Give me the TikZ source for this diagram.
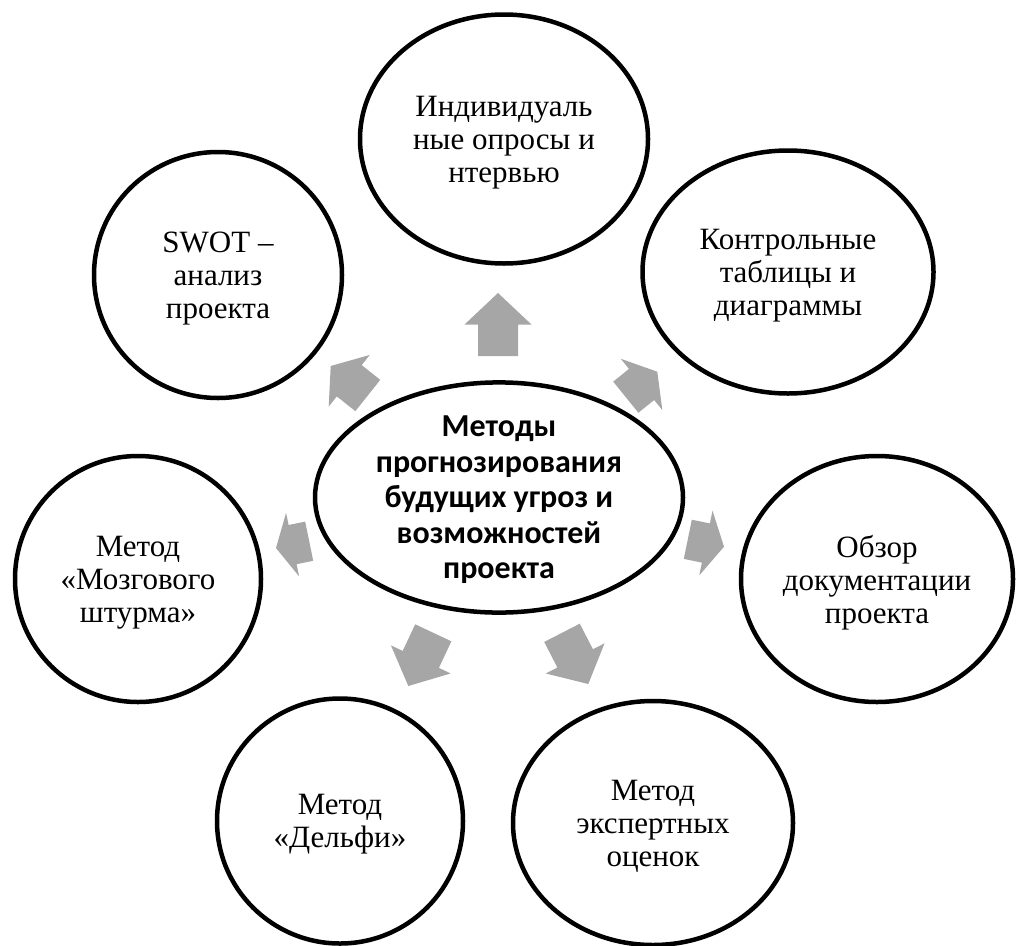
\documentclass[tikz,border=0pt]{standalone}
\usepackage{fontspec}
\setmainfont{Liberation Serif}
\newfontfamily\boldsans{Carlito}
\usetikzlibrary{shapes.geometric,calc}
\definecolor{arrowgray}{HTML}{A6A6A6}
\tikzset{
  circ/.style={ellipse, draw=black, line width=4.5pt, align=center, inner sep=0pt,
    text depth=0pt, font=\fontsize{31}{33}\selectfont},
  hub/.style={ellipse, draw=black, line width=4.5pt, align=center, inner sep=0pt,
    text depth=0pt, font=\boldsans\bfseries\fontsize{32}{35.5}\selectfont},
  blockarrow/.style={fill=arrowgray, draw=none}
}
\newcommand\blkarrow[3]{%
  \coordinate (#1m) at ($(#1)!0.5!(#2)$);
  \fill[blockarrow] ($(#1)!20pt!90:(#2)$) -- ($(#1m)!20pt!90:(#2)$) -- ($(#1m)!#3!90:(#2)$)
    -- (#2) -- ($(#1m)!#3!-90:(#2)$) -- ($(#1m)!20pt!-90:(#2)$) -- ($(#1)!20pt!-90:(#2)$) -- cycle;
}
\begin{document}
\begin{tikzpicture}[x=1pt,y=-1pt]
\useasboundingbox (0,0) rectangle (1017,945);

% outer circles
\node[circ, minimum width=288pt, minimum height=249pt] (indiv) at (504,139) {Индивидуаль\\ные опросы и\\нтервью};
\node[circ, minimum width=248pt, minimum height=246pt] (swot) at (218,275) {SWOT –\\анализ\\проекта};
\node[circ, minimum width=291pt, minimum height=243pt] (control) at (788,272) {Контрольные\\таблицы и\\диаграммы};
\node[circ, minimum width=246pt, minimum height=246pt] (brain) at (138,579) {Метод\\«Мозгового\\штурма»};
\node[circ, minimum width=272pt, minimum height=246pt] (review) at (877,579) {Обзор\\документации\\проекта};
\node[circ, minimum width=246pt, minimum height=245pt] (delphi) at (340,821) {Метод\\«Дельфи»};
\node[circ, minimum width=280pt, minimum height=244pt] (expert) at (653,823) {Метод\\экспертных\\оценок};

% hub
\node[hub, minimum width=368pt, minimum height=227pt] (hub) at (499,497.5) {Методы\\прогнозирования\\будущих угроз и\\возможностей\\проекта};

% block arrows (back, tip)
\coordinate (a1) at (498,356);   \coordinate (t1) at (498,293);
\coordinate (a2) at (367.8,395.5); \coordinate (t2) at (330.7,366);
\coordinate (a3) at (625.8,397.2); \coordinate (t3) at (657.3,371.7);
\coordinate (a4) at (309.2,541.2); \coordinate (t4) at (276,548);
\coordinate (a5) at (687.8,539.3); \coordinate (t5) at (724,546.7);
\coordinate (a6) at (433.3,632.8); \coordinate (t6) at (408.3,686);
\coordinate (a7) at (562,632.8);   \coordinate (t7) at (588.3,684);
\blkarrow{a1}{t1}{33.5pt}
\blkarrow{a2}{t2}{33pt}
\blkarrow{a3}{t3}{33pt}
\blkarrow{a4}{t4}{32.5pt}
\blkarrow{a5}{t5}{33pt}
\blkarrow{a6}{t6}{33pt}
\blkarrow{a7}{t7}{33pt}
\end{tikzpicture}
\end{document}
